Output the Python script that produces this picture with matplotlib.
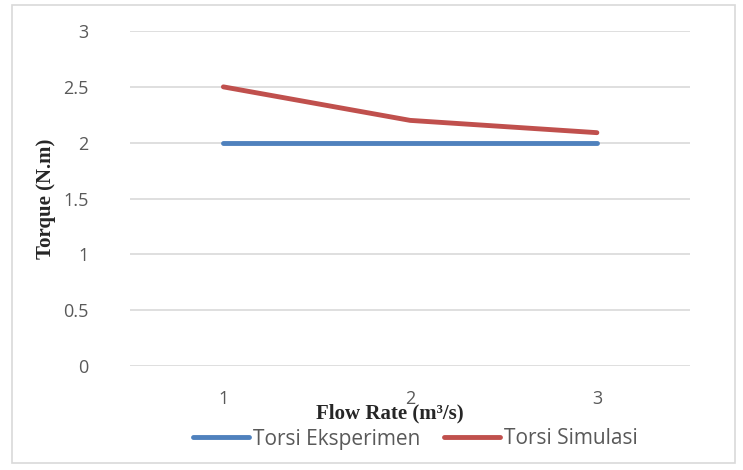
import matplotlib.pyplot as plt
from matplotlib.patches import Rectangle

# chart data
flow_rate = [1, 2, 3]
torsi_eksperimen = [2.0, 2.0, 2.0]
torsi_simulasi = [2.5, 2.2, 2.09]
y_ticks = [0, 0.5, 1, 1.5, 2, 2.5, 3]

fig = plt.figure(figsize=(7.43, 4.70), dpi=100)
ax = fig.add_axes([0.175, 0.221, 0.754, 0.713])

# outer chart border
fig.patches.append(Rectangle((12 / 743, 1 - 463 / 470), 723 / 743, 458 / 470,
                             transform=fig.transFigure, fill=False,
                             edgecolor='#D9D9D9', linewidth=1.2))

ax.plot(flow_rate, torsi_eksperimen, color='#4F81BD', linewidth=3.5,
        solid_capstyle='round', label='Torsi Eksperimen')
ax.plot(flow_rate, torsi_simulasi, color='#C0504D', linewidth=3.5,
        solid_capstyle='round', label='Torsi Simulasi')

ax.set_xlim(0.5, 3.5)
ax.set_ylim(0, 3)
ax.set_xticks(flow_rate)
ax.set_xticklabels([str(v) for v in flow_rate])
ax.set_yticks(y_ticks)
ax.set_yticklabels(['0', '0.5', '1', '1.5', '2', '2.5', '3'])

ax.grid(axis='y', color='#D9D9D9', linewidth=1.2)
ax.set_axisbelow(True)
for s in ax.spines.values():
    s.set_visible(False)
ax.tick_params(length=0, labelsize=13, labelcolor='#595959')
for lbl in ax.get_xticklabels() + ax.get_yticklabels():
    lbl.set_fontfamily('Open Sans')
ax.tick_params(axis='x', pad=17)
ax.tick_params(axis='y', pad=30)

ax.set_ylabel('Torque (N.m)', fontfamily='Liberation Serif', fontweight='bold',
              fontsize=15, color='#262626', labelpad=5)
fig.text(0.525, 1 - 418 / 470, 'Flow Rate (m³/s)', ha='center', va='baseline',
         fontfamily='Liberation Serif', fontweight='bold', fontsize=15, color='#262626')

leg = fig.legend(loc='center', bbox_to_anchor=(0.559, 1 - 439 / 470), ncol=2,
                 frameon=False, handlelength=2.7, handletextpad=0.2,
                 columnspacing=1.1, prop={'family': 'Open Sans', 'size': 15})
for t in leg.get_texts():
    t.set_color('#595959')

fig.savefig('out.png', dpi=100)
